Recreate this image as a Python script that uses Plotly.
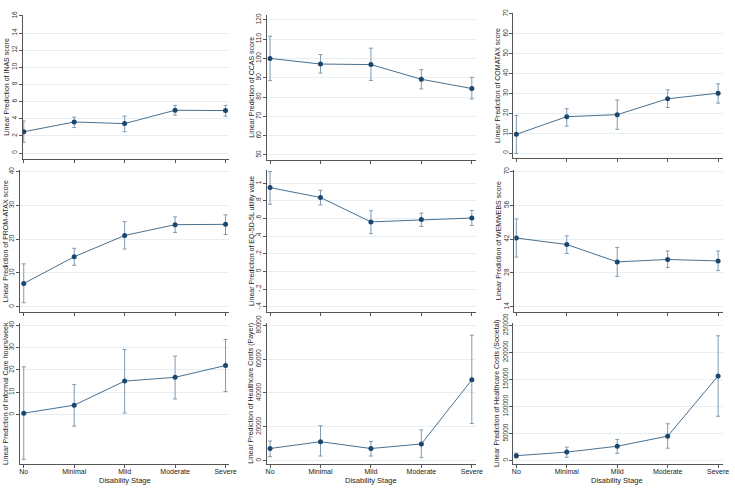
import plotly.graph_objects as go

stages = ["No", "Minimal", "Mild", "Moderate", "Severe"]

inas_est = [2.48, 3.62, 3.43, 4.99, 4.95]
inas_lo = [1.26, 2.97, 2.48, 4.42, 4.30]
inas_hi = [3.73, 4.19, 4.30, 5.56, 5.56]

ccas_est = [100.0, 97.1, 96.8, 89.2, 84.4]
ccas_lo = [88.5, 92.4, 88.6, 84.2, 79.0]
ccas_hi = [111.5, 102.0, 105.3, 94.2, 90.2]

comatax_est = [9.4, 18.3, 19.3, 27.3, 30.1]
comatax_lo = [-0.2, 13.5, 11.9, 22.9, 25.1]
comatax_hi = [18.9, 22.3, 26.7, 31.8, 34.8]

promatax_est = [6.9, 14.8, 21.1, 24.3, 24.4]
promatax_lo = [1.2, 12.3, 17.1, 22.0, 21.4]
promatax_hi = [12.7, 17.3, 25.2, 26.6, 27.2]

eq5d_est = [0.952, 0.840, 0.563, 0.589, 0.607]
eq5d_lo = [0.763, 0.756, 0.430, 0.511, 0.522]
eq5d_hi = [1.133, 0.922, 0.689, 0.663, 0.693]

wemwebs_est = [42.5, 39.8, 32.6, 33.6, 33.0]
wemwebs_lo = [34.6, 36.1, 26.6, 30.2, 29.0]
wemwebs_hi = [50.4, 43.4, 38.6, 37.1, 37.1]

care_est = [0.6, 4.2, 15.0, 16.7, 22.0]
care_lo = [-20.1, -5.2, 0.7, 7.0, 10.3]
care_hi = [21.4, 13.5, 29.2, 26.2, 33.7]

payer_est = [7130, 11180, 7130, 9830, 47800]
payer_lo = [2310, 2700, 2700, 1730, 21980]
payer_hi = [11570, 20630, 11370, 18120, 74220]

societal_est = [9040, 15660, 26500, 45180, 156630]
societal_lo = [4820, 6020, 13250, 22890, 81930]
societal_hi = [13860, 24700, 39160, 68070, 230720]

titles = [
    "Linear Prediction of INAS score",
    "Linear Prediction of CCAS score",
    "Linear Prediction of COMATAX score",
    "Linear Prediction of PROM-ATAX score",
    "Linear Prediction of EQ-5D-5L utility value",
    "Linear Prediction of WEMWEBS score",
    "Linear Prediction of Informal Care hours/week",
    "Linear Prediction of Healthcare Costs (Payer)",
    "Linear Prediction of Healthcare Costs (Societal)",
]
x_title = "Disability Stage"

series = [
    (inas_est, inas_lo, inas_hi),
    (ccas_est, ccas_lo, ccas_hi),
    (comatax_est, comatax_lo, comatax_hi),
    (promatax_est, promatax_lo, promatax_hi),
    (eq5d_est, eq5d_lo, eq5d_hi),
    (wemwebs_est, wemwebs_lo, wemwebs_hi),
    (care_est, care_lo, care_hi),
    (payer_est, payer_lo, payer_hi),
    (societal_est, societal_lo, societal_hi),
]

yticks = [
    ([0, 2, 4, 6, 8, 10, 12, 14, 16], None),
    ([50, 60, 70, 80, 90, 100, 110, 120], None),
    ([0, 10, 20, 30, 40, 50, 60, 70], None),
    ([0, 10, 20, 30, 40], None),
    ([-0.4, -0.2, 0, 0.2, 0.4, 0.6, 0.8, 1], ["-.4", "-.2", "0", ".2", ".4", ".6", ".8", "1"]),
    ([14, 28, 42, 56, 70], None),
    ([0, 10, 20, 30, 40], None),
    ([0, 20000, 40000, 60000, 80000], None),
    ([0, 50000, 100000, 150000, 200000, 250000], None),
]

W, H = 735, 488

# layout geometry in pixels: (axis left, axis right, top, bottom,
#   x tick 1 px, x tick 5 px, y val a, px a, y val b, px b, title x)
geo = [
    (22, 231, 5, 152, 23, 227, 0, 146, 16, 6, 6),
    (269, 480, 5, 153, 272, 476, 50, 148, 120, 10, 253),
    (518, 730, 3, 151, 521, 725, 0, 146, 70, 4, 502),
    (19, 231, 163, 308, 23, 227, 0, 303, 40, 165, 4.5),
    (269, 480, 163, 308, 272, 476, -0.4, 303, 1, 177, 253),
    (519, 730, 163, 308, 521, 725, 14, 303, 70, 165, 503),
    (19, 231, 320, 463, 23, 227, 0, 413, 40, 322, 4.5),
    (269, 480, 320, 463, 272, 476, 0, 460, 80000, 322, 253),
    (518, 730, 320, 463, 521, 725, 0, 460, 250000, 322, 502),
]

navy = "#1a476f"
fnt = "Liberation Sans, Arial"
fig = go.Figure()
annotations = []
xs = [1, 2, 3, 4, 5]

for i in range(9):
    L, R, T, B, xp1, xp5, va, pa, vb, pb, tx = geo[i]
    est, lo, hi = series[i]
    xn = "" if i == 0 else str(i + 1)
    xs_per_px = 4.0 / (xp5 - xp1)
    xr = [1 - (xp1 - L) * xs_per_px, 5 + (R - xp5) * xs_per_px]
    ys_per_px = (vb - va) / (pa - pb)
    yr = [va - (B - pa) * ys_per_px, va + (pa - T) * ys_per_px]
    fig.add_trace(go.Scatter(
        x=xs, y=est, mode="lines+markers",
        line=dict(color="#48708f", width=1),
        marker=dict(color=navy, size=5, symbol="circle"),
        error_y=dict(type="data", symmetric=False,
                     array=[h - e for h, e in zip(hi, est)],
                     arrayminus=[e - l for e, l in zip(est, lo)],
                     color="#7f9ab3", thickness=1, width=2),
        xaxis="x" + xn, yaxis="y" + xn, showlegend=False,
        hoverinfo="skip",
    ))
    bottom_row = i >= 6
    tv, tt = yticks[i]
    fig.layout["xaxis" + xn] = dict(
        domain=[L / W, R / W], range=xr, anchor="y" + xn,
        tickvals=xs, ticktext=stages, showticklabels=bottom_row,
        ticks="outside", ticklen=3, tickcolor="#555", tickwidth=1,
        ticklabelstandoff=-2,
        showline=True, linecolor="#555", linewidth=1,
        showgrid=False, zeroline=False, fixedrange=True,
        tickfont=dict(family=fnt, size=7, color="#222"),
    )
    fig.layout["yaxis" + xn] = dict(
        domain=[1 - B / H, 1 - T / H], range=yr, anchor="x" + xn,
        tickvals=tv, ticktext=tt if tt else [str(v) for v in tv],
        tickangle=-90,
        ticks="outside", ticklen=3, tickcolor="#555", tickwidth=1,
        ticklabelstandoff=-1,
        showline=True, linecolor="#555", linewidth=1,
        showgrid=True, gridcolor="#e8eff2", gridwidth=1,
        zeroline=False, fixedrange=True,
        tickfont=dict(family=fnt, size=6.5, color="#333"),
    )
    annotations.append(dict(
        text=titles[i], textangle=-90, x=tx / W, y=1 - ((T + B) / 2) / H,
        xref="paper", yref="paper", showarrow=False, xanchor="center", yanchor="middle",
        font=dict(family=fnt, size=7, color="#222"),
    ))
    if bottom_row:
        annotations.append(dict(
            text=x_title, x=((xp1 + xp5) / 2) / W, y=1 - 480 / H,
            xref="paper", yref="paper", showarrow=False, xanchor="center", yanchor="middle",
            font=dict(family=fnt, size=7.5, color="#222"),
        ))

fig.update_layout(
    width=W, height=H, margin=dict(l=0, r=0, t=0, b=0),
    paper_bgcolor="white", plot_bgcolor="white",
    annotations=annotations,
)

fig.write_html("out.html")
